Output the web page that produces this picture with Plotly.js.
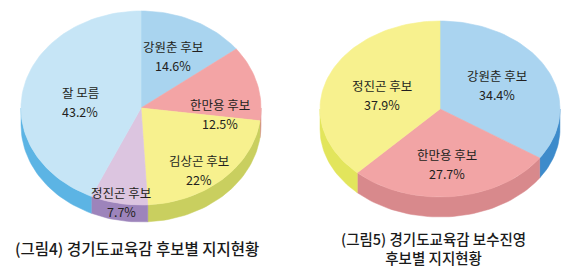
<!DOCTYPE html>
<html>
<head>
<meta charset="utf-8">
<script src="https://cdn.plot.ly/plotly-3.0.1.min.js"></script>
<style>html,body{margin:0;padding:0;background:#fff;}#chart{width:580px;height:270px;}</style>
</head>
<body>
<div id="chart"></div>
<script>
// ---- data ----
const leftCategories = ['강원춘 후보', '한만용 후보', '김상곤 후보', '정진곤 후보', '잘 모름'];
const leftValues = [14.6, 12.5, 22, 7.7, 43.2];
const rightCategories = ['강원춘 후보', '한만용 후보', '정진곤 후보'];
const rightValues = [34.4, 27.7, 37.9];
const leftCaption = ['(그림4) 경기도교육감 후보별 지지현황'];
const rightCaption = ['(그림5) 경기도교육감 보수진영', '후보별 지지현황'];

// ---- styles ----
const leftTopColors = ['#a9d4ef', '#f3a4a5', '#f7f18e', '#dcc5e0', '#c6e5f6'];
const leftSideColors = ['#4f9fd6', '#d88a8c', '#c9cf5f', '#9d84bb', '#5cb4e4'];
const rightTopColors = ['#aad4f0', '#f2a4a5', '#f7f18e'];
const rightSideColors = ['#3d8bcb', '#d8898c', '#e2e55c'];
const leftGeom = {cx: 141, cy: 108, rx: 120, ry: 97, depth: 17};
const rightGeom = {cx: 440, cy: 109, rx: 120, ry: 88, depth: 20};
const leftLabelAngleOffset = [0, 20, 6, -1, -5];
const leftLabelRadius = [0.6, 0.66, 0.8, 0.98, 0.51];
const rightLabelAngleOffset = [-2, 1, -4];
const rightLabelRadius = [0.55, 0.63, 0.51];
const FONT = '"Noto Sans CJK KR", "Noto Sans", sans-serif';
const TXT = '#231f20';

const traces = [];
const annotations = [];

function pt(g, deg, dy) {
  const r = deg * Math.PI / 180;
  return [g.cx + g.rx * Math.sin(r), g.cy - g.ry * Math.cos(r) + (dy || 0)];
}

function buildPie(cats, vals, g, topCols, sideCols, angOff, radFrac) {
  const total = vals.reduce((a, b) => a + b, 0);
  const ranges = [];
  let acc = 0;
  vals.forEach(v => { const a0 = acc / total * 360; acc += v; ranges.push([a0, acc / total * 360]); });
  // sides (visible from 90 to 270 deg)
  ranges.forEach((rg, i) => {
    const s = Math.max(rg[0], 90), e = Math.min(rg[1], 270);
    if (e <= s) return;
    const xs = [], ys = [];
    const n = Math.max(4, Math.ceil((e - s) / 2));
    for (let k = 0; k <= n; k++) { const p = pt(g, s + (e - s) * k / n); xs.push(p[0]); ys.push(p[1]); }
    for (let k = n; k >= 0; k--) { const p = pt(g, s + (e - s) * k / n, g.depth); xs.push(p[0]); ys.push(p[1]); }
    xs.push(xs[0]); ys.push(ys[0]);
    traces.push({x: xs, y: ys, type: 'scatter', mode: 'lines', fill: 'toself',
      fillcolor: sideCols[i], line: {color: sideCols[i], width: 0.5}, hoverinfo: 'skip', showlegend: false});
  });
  // tops
  ranges.forEach((rg, i) => {
    const xs = [g.cx], ys = [g.cy];
    const n = Math.max(4, Math.ceil((rg[1] - rg[0]) / 2));
    for (let k = 0; k <= n; k++) { const p = pt(g, rg[0] + (rg[1] - rg[0]) * k / n); xs.push(p[0]); ys.push(p[1]); }
    xs.push(g.cx); ys.push(g.cy);
    traces.push({x: xs, y: ys, type: 'scatter', mode: 'lines', fill: 'toself',
      fillcolor: topCols[i], line: {color: topCols[i], width: 0.6}, name: cats[i],
      text: cats[i] + ' ' + vals[i] + '%', hoverinfo: 'text', showlegend: false});
  });
  // labels
  ranges.forEach((rg, i) => {
    const mid = (rg[0] + rg[1]) / 2 + angOff[i];
    const r = mid * Math.PI / 180;
    const x = g.cx + g.rx * radFrac[i] * Math.sin(r);
    const y = g.cy - g.ry * radFrac[i] * Math.cos(r);
    [cats[i], vals[i] + '%'].forEach((t, j) => {
      annotations.push({x: x, y: y + (j === 0 ? -9.5 : 9.5), xref: 'x', yref: 'y', text: t, showarrow: false,
        xanchor: 'center', yanchor: 'middle', font: {family: FONT, size: 12.5, color: TXT}});
    });
  });
}

buildPie(leftCategories, leftValues, leftGeom, leftTopColors, leftSideColors, leftLabelAngleOffset, leftLabelRadius);
buildPie(rightCategories, rightValues, rightGeom, rightTopColors, rightSideColors, rightLabelAngleOffset, rightLabelRadius);

annotations.push({x: 137, y: 248, xref: 'x', yref: 'y', text: leftCaption.join('<br>'), showarrow: false,
  xanchor: 'center', yanchor: 'middle', font: {family: FONT, size: 15.5, color: '#1a1a1a', weight: 500}});
annotations.push({x: 433, y: 248, xref: 'x', yref: 'y', text: rightCaption.join('<br>'), showarrow: false,
  xanchor: 'center', yanchor: 'middle', align: 'center', font: {family: FONT, size: 14.5, color: '#1a1a1a', weight: 500}});

const layout = {
  width: 580, height: 270,
  margin: {l: 0, r: 0, t: 0, b: 0, pad: 0},
  paper_bgcolor: '#ffffff', plot_bgcolor: '#ffffff',
  xaxis: {range: [0, 580], visible: false, fixedrange: true},
  yaxis: {range: [270, 0], visible: false, fixedrange: true},
  annotations: annotations,
  showlegend: false
};
Plotly.newPlot('chart', traces, layout, {displayModeBar: false, staticPlot: true});
</script>
</body>
</html>
